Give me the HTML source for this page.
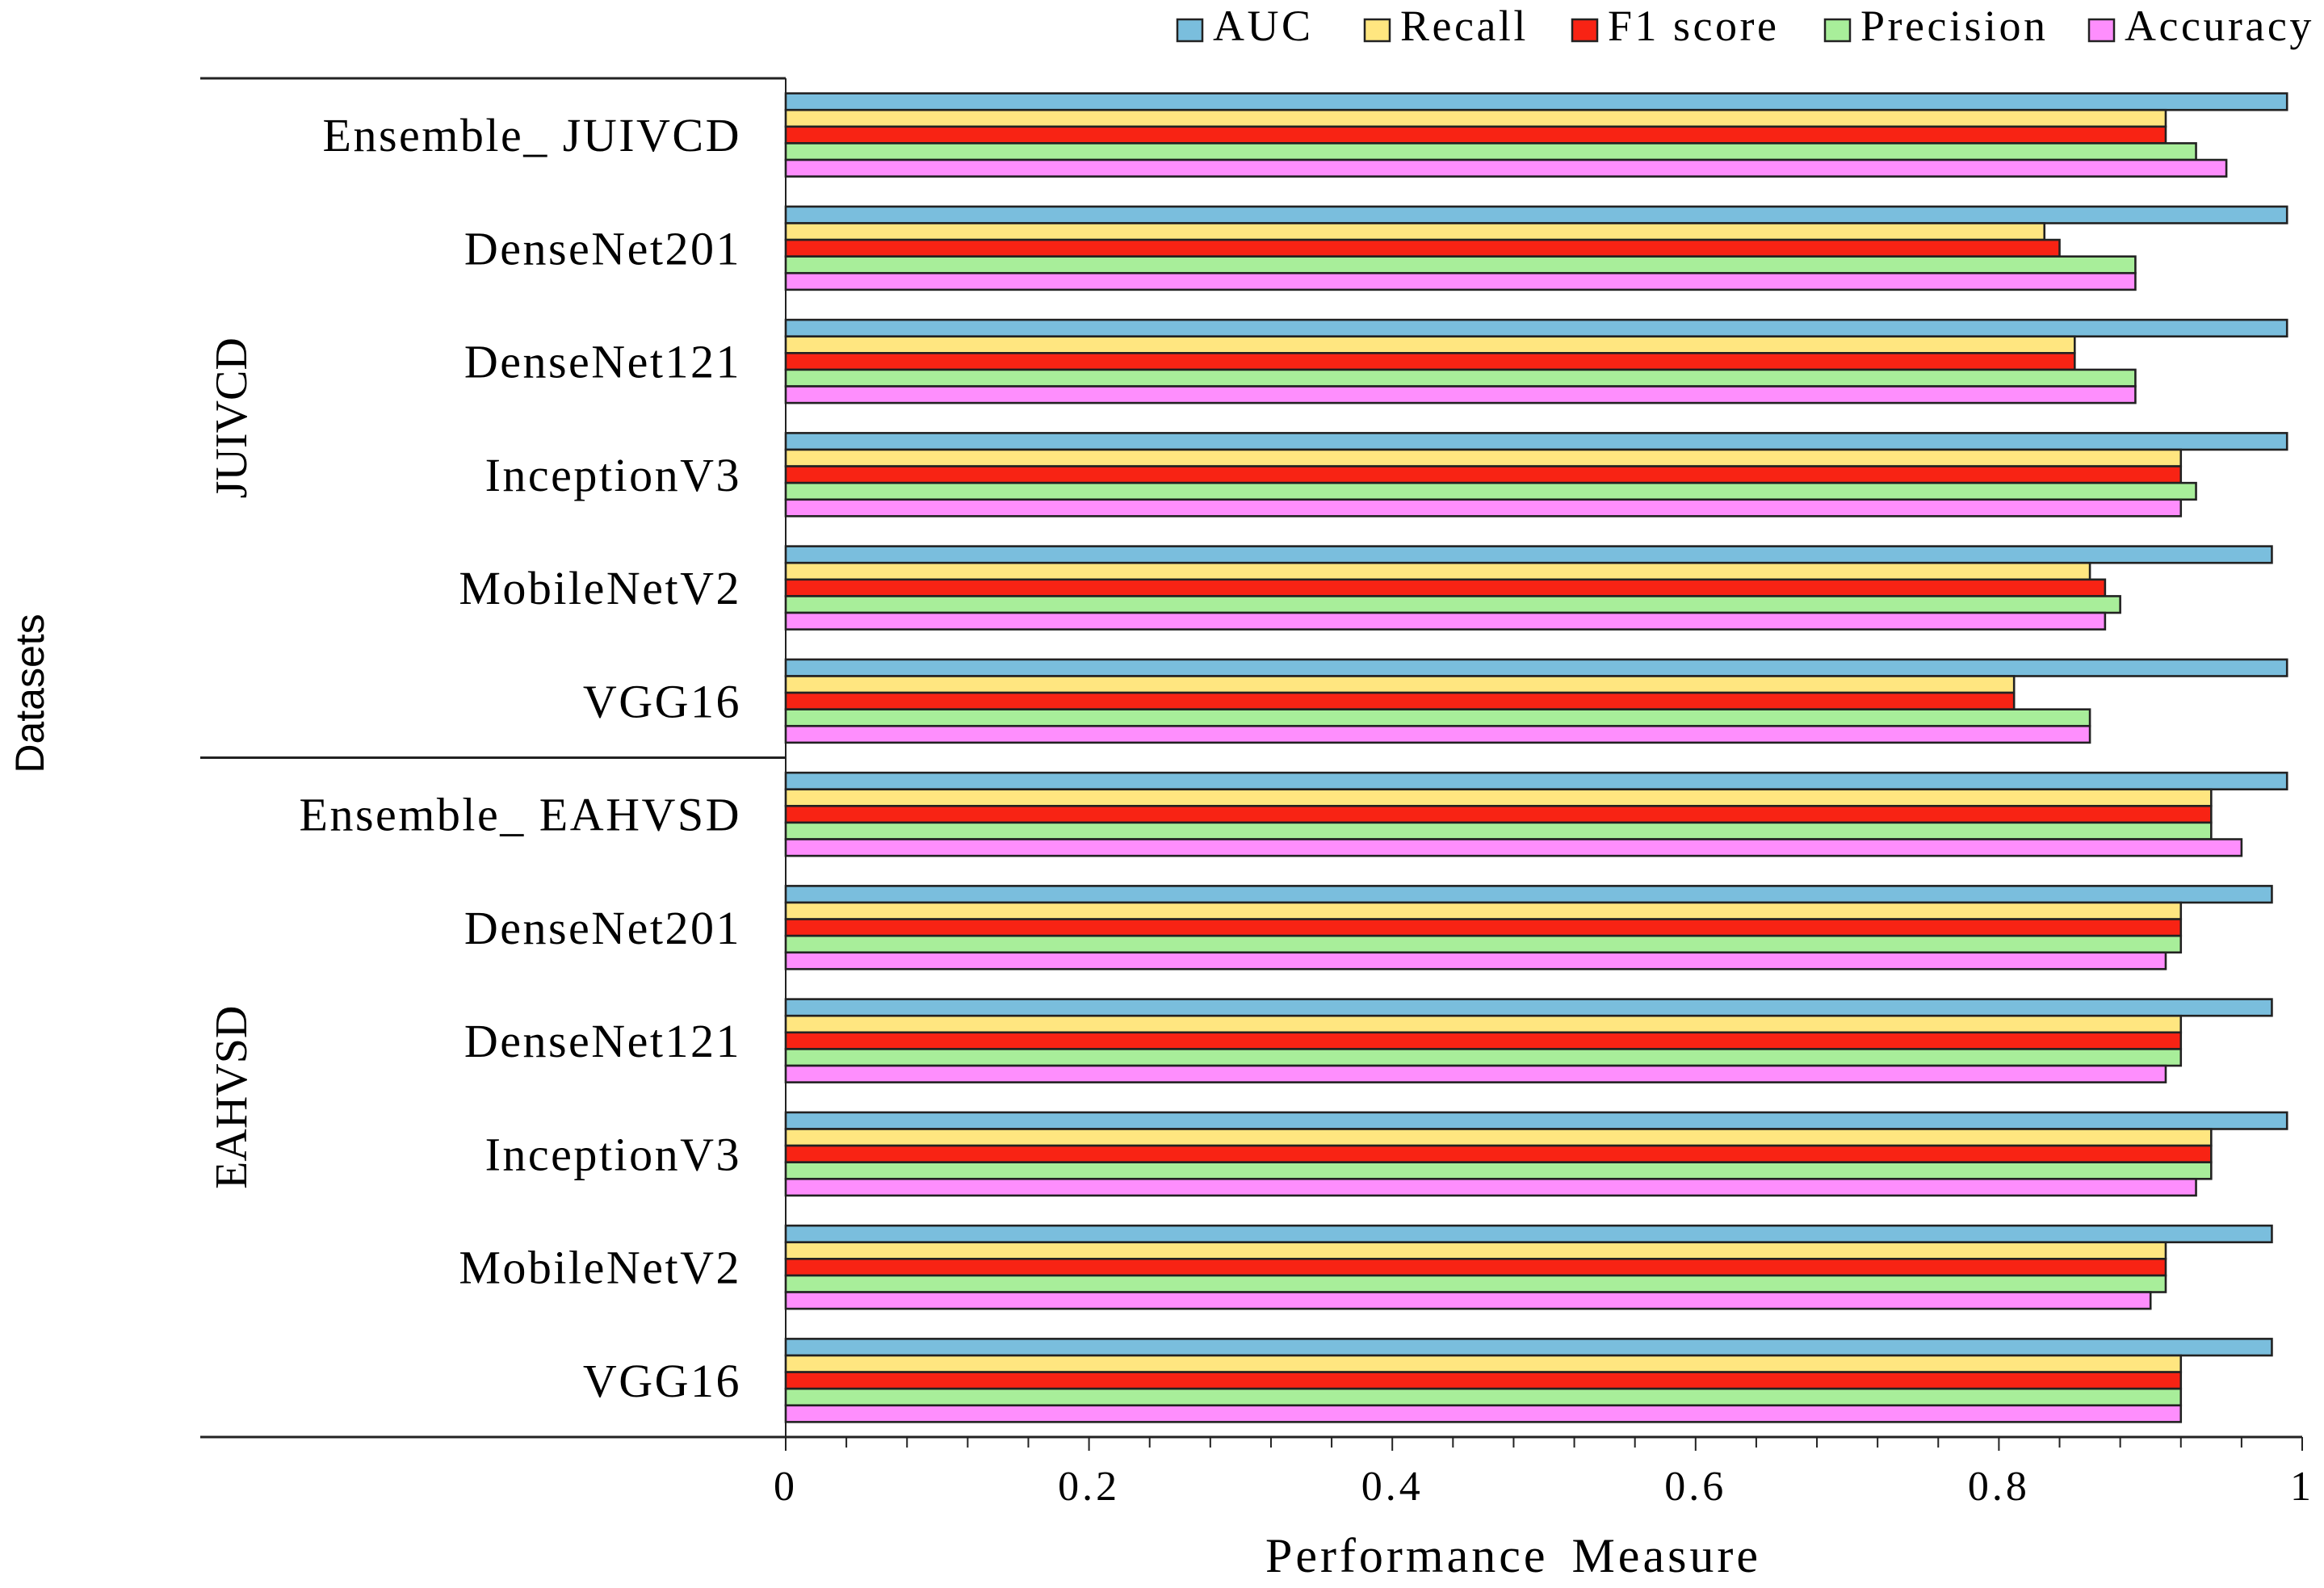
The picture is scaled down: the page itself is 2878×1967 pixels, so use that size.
<!DOCTYPE html>
<html><head><meta charset="utf-8"><style>
html,body{margin:0;padding:0;background:#fff;}
svg{display:block;}
text{font-family:"Liberation Serif",serif;fill:#000;}
</style></head><body>
<svg id="chart" width="2878" height="1967" viewBox="0 0 2878 1967" xmlns="http://www.w3.org/2000/svg">
<g id="legend"></g>
<g id="bars"></g>
<g id="axes"></g>
</svg>
<script>
const categories = ["Ensemble_ JUIVCD","DenseNet201","DenseNet121","InceptionV3","MobileNetV2","VGG16",
  "Ensemble_ EAHVSD","DenseNet201","DenseNet121","InceptionV3","MobileNetV2","VGG16"];
const seriesNames = ["AUC","Recall","F1 score","Precision","Accuracy"];
const aucValues       = [0.99,0.99,0.99,0.99,0.98,0.99, 0.99,0.98,0.98,0.99,0.98,0.98];
const recallValues    = [0.91,0.83,0.85,0.92,0.86,0.81, 0.94,0.92,0.92,0.94,0.91,0.92];
const f1Values        = [0.91,0.84,0.85,0.92,0.87,0.81, 0.94,0.92,0.92,0.94,0.91,0.92];
const precisionValues = [0.93,0.89,0.89,0.93,0.88,0.86, 0.94,0.92,0.92,0.94,0.91,0.92];
const accuracyValues  = [0.95,0.89,0.89,0.92,0.87,0.86, 0.96,0.91,0.91,0.93,0.90,0.92];
const tickValues = [0,0.2,0.4,0.6,0.8,1];
const tickLabels = ["0","0.2","0.4","0.6","0.8","1"];
const datasetNames = ["JUIVCD","EAHVSD"];

const NS="http://www.w3.org/2000/svg";
const colors=["#7abedd","#ffe680","#f82314","#a8ee9a","#fe8efd"];
const seriesData=[aucValues,recallValues,f1Values,precisionValues,accuracyValues];
const X0=973, X1=2851, YTOP=97, YBOT=1780;
const xScale=v=>X0+(X1-X0)*v;
const band=(YBOT-YTOP)/categories.length;
const barH=20.6;
function yBar(ci,si){return YTOP+ci*band+(band-5*barH)/2+si*barH;}
function mk(tag,attrs,parent){const e=document.createElementNS(NS,tag);for(const k in attrs)e.setAttribute(k,attrs[k]);parent.appendChild(e);return e;}

const bars=document.getElementById('bars');
categories.forEach((c,ci)=>{
  seriesData.forEach((arr,si)=>{
    const r=mk('rect',{x:X0,y:yBar(ci,si),width:xScale(arr[ci])-X0,height:barH,fill:colors[si],stroke:'#222','stroke-width':2.6},bars);
    
    
  });
  const t=mk('text',{x:918,y:YTOP+ci*band+band/2+20,'text-anchor':'end','font-size':58,'letter-spacing':2.5},bars);
  t.textContent=c;
  
  
});

const axes=document.getElementById('axes');
const l1=mk('line',{x1:X0,y1:YTOP,x2:X0,y2:YBOT,stroke:'#222','stroke-width':2},axes);


const l2=mk('line',{x1:248,y1:YBOT,x2:X1,y2:YBOT,stroke:'#222','stroke-width':3},axes);


[YTOP,YTOP+6*band].forEach(y=>{
  const s=mk('line',{x1:248,y1:y,x2:X0,y2:y,stroke:'#222','stroke-width':3},axes);
  
  
});
for(let i=0;i<=25;i++){
  const v=i*0.04, major=i%5===0;
  const tk=mk('line',{x1:xScale(v),y1:YBOT,x2:xScale(v),y2:YBOT+(major?17:13),stroke:'#222','stroke-width':2},axes);
  
  
}
tickValues.forEach((v,i)=>{
  const t=mk('text',{x:xScale(v),y:1858,'text-anchor':'middle','font-size':52,'letter-spacing':4},axes);
  t.textContent=tickLabels[i];
  
  
});
const xt=mk('text',{x:1874,y:1947,'text-anchor':'middle','font-size':60,'letter-spacing':4,'word-spacing':10},axes);
xt.textContent='Performance Measure';


datasetNames.forEach((d,i)=>{
  const cy=YTOP+(i*6+3)*band;
  const t=mk('text',{x:0,y:0,'text-anchor':'middle','font-size':56,transform:`translate(305,${cy}) rotate(-90)`},axes);
  t.textContent=d;
  
  
});
const yt=mk('text',{x:0,y:0,'text-anchor':'middle','font-size':50,transform:'translate(54,859) rotate(-90)',style:'font-family:"Liberation Sans",sans-serif'},axes);
yt.textContent='Datasets';



const legend=document.getElementById('legend');
const legX=[1458,1690,1947,2260,2587];
seriesNames.forEach((n,i)=>{
  const g=mk('g',{},legend);
  
  
  mk('rect',{x:legX[i],y:24,width:31,height:27,fill:colors[i],stroke:'#222','stroke-width':2.5},g);
  const t=mk('text',{x:legX[i]+44,y:50,'font-size':54,'letter-spacing':3.5},g);
  t.textContent=n;
});
</script>
</body></html>
